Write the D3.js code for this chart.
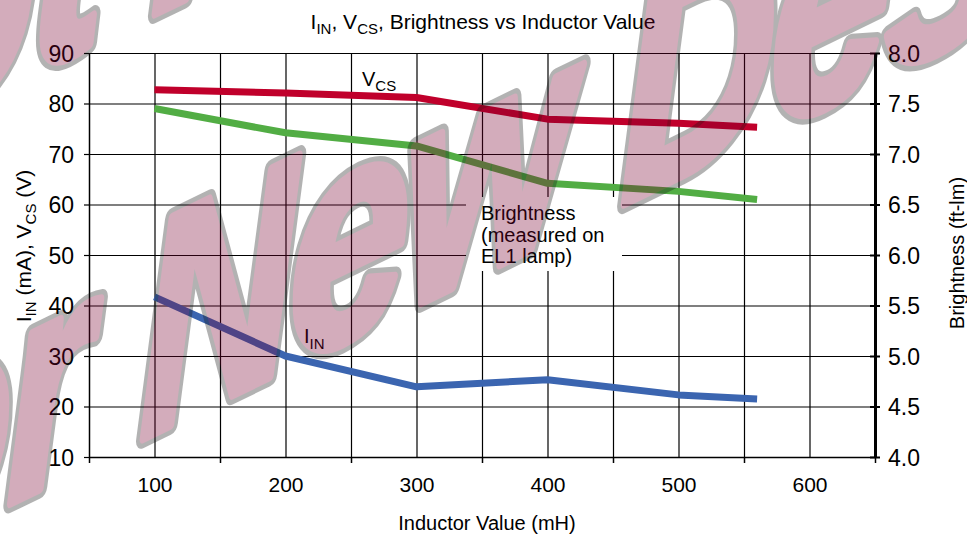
<!DOCTYPE html>
<html>
<head>
<meta charset="utf-8">
<script src="https://cdn.jsdelivr.net/npm/d3@7"></script>
<style>
  body { margin: 0; background: #fff; }
  svg text { font-family: "Liberation Sans", Arial, sans-serif; fill: #000; }
</style>
</head>
<body>
<div id="chart"></div>
<script>
// data
var inductance = [100, 200, 300, 400, 500, 560];
var iinValues = [41.7, 30.0, 23.9, 25.3, 22.3, 21.5];
var vcsValues = [82.7, 82.1, 81.2, 76.9, 76.1, 75.3];
var brightnessValues = [7.45, 7.21, 7.08, 6.71, 6.63, 6.55];
var leftTicks = [10, 20, 30, 40, 50, 60, 70, 80, 90];
var rightTicks = [4.0, 4.5, 5.0, 5.5, 6.0, 6.5, 7.0, 7.5, 8.0];
var xLabels = [100, 200, 300, 400, 500, 600];
var xMajorTicks = [50, 150, 250, 350, 450, 550, 650];
var xGrid = [100, 150, 200, 250, 300, 350, 400, 450, 500, 550, 600];
var watermark = ['Not Recommended', 'For New Designs'];

var svgwidth = 967, svgheight = 535;
var margin = {top: 53, right: 92, bottom: 78, left: 89};
var width = svgwidth - margin.left - margin.right,
    height = svgheight - margin.top - margin.bottom;

var svg = d3.select('#chart')
  .append('svg')
    .attr('width', svgwidth)
    .attr('height', svgheight);

var x = d3.scaleLinear().domain([50, 650]).range([0, width]);
var yL = d3.scaleLinear().domain([10, 90]).range([height, 0]);
var yR = d3.scaleLinear().domain([4, 8]).range([height, 0]);

var focus = svg.append('g')
  .attr('transform', 'translate(' + margin.left + ',' + margin.top + ')');

// grid lines
focus.append('g')
  .call(d3.axisLeft(yL).tickValues(leftTicks).tickSize(-width).tickFormat(''))
  .call(function(g) { g.select('.domain').remove(); })
  .selectAll('line').attr('stroke', '#000').attr('stroke-width', 1.2);

focus.append('g')
  .attr('transform', 'translate(0,' + height + ')')
  .call(d3.axisBottom(x).tickValues(xGrid).tickSize(height).tickSizeOuter(0).tickFormat(''))
  .call(function(g) { g.select('.domain').remove(); })
  .selectAll('line').attr('transform', 'translate(0,' + (-height) + ')')
    .attr('stroke', '#000').attr('stroke-width', 1.2);

// white box behind the brightness note
focus.append('rect')
  .attr('x', 466 - margin.left).attr('y', 197 - margin.top)
  .attr('width', 156).attr('height', 74)
  .attr('fill', '#fff');

// left axis
var gL = focus.append('g')
  .call(d3.axisLeft(yL).tickValues(leftTicks).tickSize(5).tickSizeOuter(0).tickPadding(10));
gL.select('.domain').attr('stroke-width', 1.5);
gL.selectAll('line').attr('stroke-width', 1.2);
gL.selectAll('text').style('font-size', '23px').attr('dy', '0.36em');

// bottom axis: ticks between categories, labels at hundreds
var gB = focus.append('g')
  .attr('transform', 'translate(0,' + height + ')')
  .call(d3.axisBottom(x).tickValues(xMajorTicks).tickSize(6).tickSizeOuter(0).tickFormat(''));
gB.select('.domain').attr('stroke-width', 1.5);
gB.selectAll('line').attr('stroke-width', 1.5);

var gBL = focus.append('g')
  .attr('transform', 'translate(0,' + height + ')')
  .call(d3.axisBottom(x).tickValues(xLabels).tickSize(0).tickPadding(20));
gBL.select('.domain').remove();
gBL.selectAll('text').style('font-size', '21px');

// right axis with crossing ticks
var gR = focus.append('g')
  .attr('transform', 'translate(' + width + ',0)')
  .call(d3.axisRight(yR).tickValues(rightTicks).tickSize(5).tickSizeOuter(0).tickPadding(8)
    .tickFormat(d3.format('.1f')));
gR.select('.domain').attr('stroke-width', 3);
gR.selectAll('line').attr('x1', -5).attr('stroke-width', 2);
gR.selectAll('text').style('font-size', '23px').attr('dy', '0.36em');

// series lines
function drawLine(values, yScale, color) {
  var line = d3.line()
    .x(function(d, i) { return x(inductance[i]); })
    .y(function(d) { return yScale(d); });
  focus.append('path')
    .datum(values)
    .attr('fill', 'none')
    .attr('stroke', color)
    .attr('stroke-width', 7)
    .attr('stroke-linejoin', 'round')
    .attr('d', line);
}
drawLine(iinValues, yL, '#3b65b0');
drawLine(brightnessValues, yR, '#52ad44');
drawLine(vcsValues, yL, '#c0002b');

// labels
var title = svg.append('text')
  .attr('x', 483).attr('y', 29)
  .attr('text-anchor', 'middle')
  .style('font-size', '21px');
title.append('tspan').text('I');
title.append('tspan').text('IN').attr('font-size', 15).attr('dy', 5);
title.append('tspan').text(', V').attr('dy', -5);
title.append('tspan').text('CS').attr('font-size', 15).attr('dy', 5);
title.append('tspan').text(', Brightness vs Inductor Value').attr('dy', -5);

svg.append('text')
  .attr('x', 487).attr('y', 530)
  .attr('text-anchor', 'middle')
  .style('font-size', '20px')
  .text('Inductor Value (mH)');

var yLab = svg.append('text')
  .attr('transform', 'translate(31,246) rotate(-90)')
  .attr('text-anchor', 'middle')
  .style('font-size', '21px');
yLab.append('tspan').text('I');
yLab.append('tspan').text('IN').attr('font-size', 15).attr('dy', 5);
yLab.append('tspan').text(' (mA), V').attr('dy', -5);
yLab.append('tspan').text('CS').attr('font-size', 15).attr('dy', 5);
yLab.append('tspan').text(' (V)').attr('dy', -5);

svg.append('text')
  .attr('transform', 'translate(964,253) rotate(-90)')
  .attr('text-anchor', 'middle')
  .style('font-size', '20px')
  .text('Brightness (ft-lm)');

var vcsLab = svg.append('text').attr('x', 362).attr('y', 86).style('font-size', '20px');
vcsLab.append('tspan').text('V');
vcsLab.append('tspan').text('CS').attr('font-size', 15).attr('dy', 5);

var iinLab = svg.append('text').attr('x', 304).attr('y', 343).style('font-size', '20px');
iinLab.append('tspan').text('I');
iinLab.append('tspan').text('IN').attr('font-size', 15).attr('dy', 6);

var note = svg.append('text').attr('x', 481).attr('y', 220).style('font-size', '20px');
['Brightness', '(measured on', 'EL1 lamp)'].forEach(function(t, i) {
  note.append('tspan').attr('x', 481).attr('dy', i ? 21.5 : 0).text(t);
});

// watermark on top: grey outline, then pink body, whole group see-through
var wm = svg.append('g')
  .attr('opacity', 0.32)
  .attr('transform', 'translate(0,508) skewY(-26) scale(0.72,1)');
function wmText(t, i) {
  return wm.append('text')
    .attr('x', -341).attr('y', i ? 0 : -419)
    .style('font-size', '300px')
    .style('font-weight', 'bold')
    .style('font-style', 'italic')
    .style('letter-spacing', '-8px')
    .style('stroke-linejoin', 'round')
    .text(t);
}
watermark.forEach(function(t, i) {
  wmText(t, i).style('fill', '#141414').style('stroke', '#141414').style('stroke-width', 20);
});
watermark.forEach(function(t, i) {
  wmText(t, i).style('fill', 'rgb(122,0,47)').style('stroke', 'rgb(122,0,47)').style('stroke-width', 10);
});
</script>
</body>
</html>
